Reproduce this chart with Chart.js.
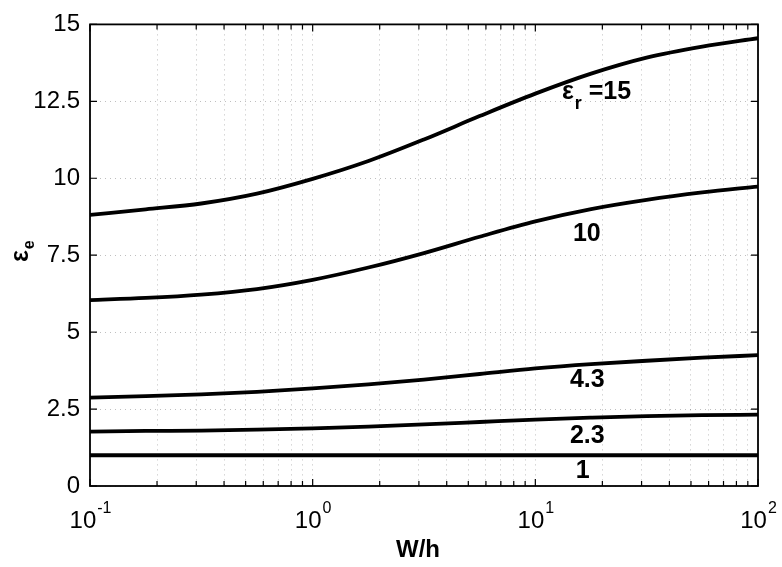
<!DOCTYPE html>
<html>
<head>
<meta charset="utf-8">
<script src="https://cdn.jsdelivr.net/npm/chart.js@4"></script>
<style>
  body { margin: 0; background: #fff; }
  #wrap { width: 782px; height: 567px; }
</style>
</head>
<body>
<div id="wrap"><canvas id="chartCanvas"></canvas></div>
<script>
// W/h values where the curves were read (quarter decades)
let wh = [0.1, 0.178, 0.316, 0.562, 1, 1.78, 3.16, 5.62, 10, 17.8, 31.6, 56.2, 100];
// effective permittivity per substrate
let er15 = [8.81, 8.99, 9.18, 9.50, 9.98, 10.56, 11.26, 12.02, 12.75, 13.40, 13.92, 14.28, 14.55];
let er10 = [6.04, 6.11, 6.22, 6.40, 6.70, 7.10, 7.57, 8.10, 8.60, 9.00, 9.30, 9.54, 9.73];
let er43 = [2.87, 2.92, 2.98, 3.06, 3.17, 3.30, 3.46, 3.64, 3.82, 3.96, 4.07, 4.17, 4.25];
let er23 = [1.77, 1.79, 1.80, 1.83, 1.87, 1.93, 2.00, 2.08, 2.16, 2.22, 2.27, 2.30, 2.32];
let er1 = [1, 1, 1, 1, 1, 1, 1, 1, 1, 1, 1, 1, 1];

let xMajor = [0.1, 1, 10, 100];
let xExp = ['-1', '0', '1', '2'];
let yTicks = [0, 2.5, 5, 7.5, 10, 12.5, 15];

// inline curve labels: [text, subscript, rest, x (W/h), y (eps)]
let curveLabels = [
    ['ε', 'r', ' =15', 13.16, 12.58],
    ['10', '', '', 14.75, 7.95],
    ['4.3', '', '', 14.3, 3.22],
    ['2.3', '', '', 14.3, 1.40],
    ['1', '', '', 15.2, 0.255]
];

const FONT = "'Liberation Sans', Arial, Helvetica, sans-serif";

let toPts = function (ys) {
    return ys.map(function (y, i) { return { x: wh[i], y: y }; });
};

let lineSet = function (ys) {
    return {
        data: toPts(ys),
        borderColor: '#000',
        borderWidth: 3.8,
        pointRadius: 0,
        fill: false,
        cubicInterpolationMode: 'monotone'
    };
};

let minorTicks = function () {
    let out = [];
    for (let d = -1; d <= 1; d++) {
        for (let m = 1; m <= 9; m++) out.push(m * Math.pow(10, d));
    }
    out.push(100);
    return out;
};

let decor = {
    id: 'decor',
    afterDraw: function (chart) {
        let ctx = chart.ctx;
        let a = chart.chartArea;
        let xs = chart.scales.x;
        let ys = chart.scales.y;
        ctx.save();
        ctx.strokeStyle = '#000';
        ctx.fillStyle = '#000';

        // inward ticks
        ctx.lineWidth = 1.2;
        ctx.beginPath();
        minorTicks().forEach(function (v) {
            let px = xs.getPixelForValue(v);
            let len = xMajor.indexOf(v) >= 0 ? 7 : 5;
            ctx.moveTo(px, a.bottom); ctx.lineTo(px, a.bottom - len);
            ctx.moveTo(px, a.top); ctx.lineTo(px, a.top + len);
        });
        yTicks.forEach(function (v) {
            let py = ys.getPixelForValue(v);
            ctx.moveTo(a.left, py); ctx.lineTo(a.left + 7, py);
            ctx.moveTo(a.right, py); ctx.lineTo(a.right - 7, py);
        });
        ctx.stroke();

        // box
        ctx.lineWidth = 1.8;
        ctx.strokeRect(a.left, a.top, a.right - a.left, a.bottom - a.top);

        // x tick labels 10^n
        ctx.textBaseline = 'alphabetic';
        ctx.textAlign = 'left';
        xMajor.forEach(function (v, i) {
            let px = xs.getPixelForValue(v);
            ctx.font = '24px ' + FONT;
            let w1 = ctx.measureText('10').width;
            ctx.font = '16px ' + FONT;
            let w2 = ctx.measureText(xExp[i]).width;
            let x0 = px - (w1 + w2) / 2;
            ctx.font = '24px ' + FONT;
            ctx.fillText('10', x0, 528);
            ctx.font = '16px ' + FONT;
            ctx.fillText(xExp[i], x0 + w1 + 1, 513);
        });

        // x title
        ctx.font = 'bold 24px ' + FONT;
        ctx.textAlign = 'center';
        ctx.fillText('W/h', 418, 557);

        // y title, rotated
        ctx.save();
        ctx.translate(28, 262);
        ctx.rotate(-Math.PI / 2);
        ctx.textAlign = 'left';
        ctx.font = 'bold 25px ' + FONT;
        ctx.fillText('ε', 0, 0);
        let we = ctx.measureText('ε').width;
        ctx.font = 'bold 16px ' + FONT;
        ctx.fillText('e', we + 1, 6);
        ctx.restore();

        // curve labels
        ctx.textAlign = 'left';
        curveLabels.forEach(function (l) {
            let px = xs.getPixelForValue(l[3]);
            let py = ys.getPixelForValue(l[4]);
            ctx.font = 'bold 25px ' + FONT;
            ctx.fillText(l[0], px, py);
            let x = px + ctx.measureText(l[0]).width;
            if (l[1]) {
                ctx.font = 'bold 18px ' + FONT;
                ctx.fillText(l[1], x + 1, py + 10);
                x += ctx.measureText(l[1]).width + 1;
            }
            if (l[2]) {
                ctx.font = 'bold 25px ' + FONT;
                ctx.fillText(l[2], x, py);
            }
        });
        ctx.restore();
    }
};

let ctx = document.getElementById('chartCanvas').getContext('2d');
window.chart = new Chart(ctx, {
    type: 'line',
    data: {
        datasets: [lineSet(er15), lineSet(er10), lineSet(er43), lineSet(er23), lineSet(er1)]
    },
    options: {
        responsive: true,
        maintainAspectRatio: false,
        animation: false,
        layout: { padding: { left: 0, right: 24, top: 16, bottom: 0 } },
        plugins: {
            legend: { display: false },
            tooltip: { enabled: false }
        },
        scales: {
            x: {
                type: 'logarithmic',
                min: 0.1,
                max: 100,
                afterBuildTicks: function (scale) {
                    scale.ticks = minorTicks().map(function (v) { return { value: v }; });
                },
                afterFit: function (scale) { scale.height = 81; },
                ticks: { display: false, autoSkip: false },
                grid: { color: 'rgba(0,0,0,0.25)', lineWidth: 1, drawTicks: false },
                border: { display: false, dash: [1, 4] }
            },
            y: {
                min: 0,
                max: 15,
                afterBuildTicks: function (scale) {
                    scale.ticks = yTicks.map(function (v) { return { value: v }; });
                },
                afterFit: function (scale) { scale.width = 90; },
                ticks: {
                    color: '#000',
                    padding: 10,
                    font: { family: FONT, size: 24 },
                    callback: function (v) { return String(v); }
                },
                grid: { color: 'rgba(0,0,0,0.25)', lineWidth: 1, drawTicks: false },
                border: { display: false, dash: [1, 4] }
            }
        }
    },
    plugins: [decor]
});
</script>
</body>
</html>
